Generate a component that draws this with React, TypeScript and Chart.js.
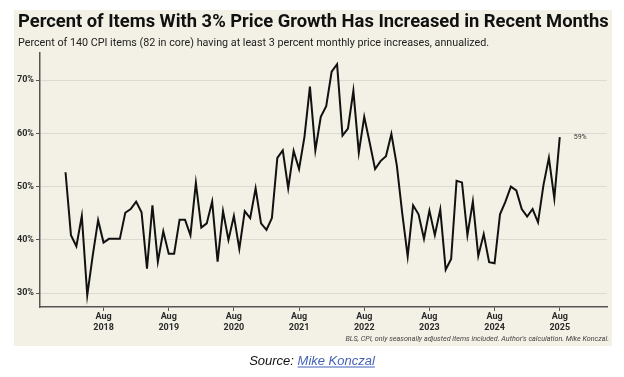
import React, { useEffect, useRef } from 'react';
import { Chart, registerables } from 'chart.js';

Chart.register(...registerables);

// Monthly share (%) of CPI items with >=3% annualized monthly price growth, Jan 2018 .. Aug 2025
const values2018 = [52.7, 40.9, 38.8, 44.5, 29.6, 37.0, 43.7, 39.5, 40.2, 40.2, 40.2, 45.1];
const values2019 = [45.8, 47.2, 45.2, 34.6, 46.5, 35.9, 41.6, 37.4, 37.4, 43.8, 43.8, 40.9];
const values2020 = [50.7, 42.3, 43.1, 47.2, 35.9, 45.4, 40.0, 44.5, 38.3, 45.4, 44.1, 49.7];
const values2021 = [43.1, 41.9, 44.1, 55.4, 56.8, 49.7, 56.7, 53.3, 59.4, 68.8, 56.8, 63.1];
const values2022 = [65.1, 71.6, 73.0, 59.6, 60.9, 68.0, 56.4, 63.1, 58.3, 53.3, 54.8, 55.7];
const values2023 = [59.9, 54.0, 45.0, 36.9, 46.5, 44.8, 40.2, 45.5, 40.9, 45.7, 34.4, 36.4];
const values2024 = [51.1, 50.8, 40.9, 47.2, 37.0, 41.1, 35.8, 35.6, 44.8, 47.2, 50.0, 49.3];
const values2025 = [45.8, 44.4, 45.8, 43.3, 50.3, 55.4, 47.8, 59.3];

const values = [
  ...values2018, ...values2019, ...values2020, ...values2021,
  ...values2022, ...values2023, ...values2024, ...values2025,
];

const tickMonth = 'Aug';
const tickYears = ['2018', '2019', '2020', '2021', '2022', '2023', '2024', '2025'];
const tickMonthIndex = 7; // August, counted from January 2018 = 0
const yTicks = [30, 40, 50, 60, 70];
const yMin = 27.4;
const yMax = 75.1;
const xMin = -4.7;
const xMax = 99.7;

const titleText = 'Percent of Items With 3% Price Growth Has Increased in Recent Months';
const subtitleText = 'Percent of 140 CPI items (82 in core) having at least 3 percent monthly price increases, annualized.';
const footnoteText = "BLS, CPI, only seasonally adjusted items included. Author's calculation. Mike Konczal.";
const sourcePrefix = 'Source: ';
const sourceLink = 'Mike Konczal';
const lastLabel = '59%';

const points = values.map((v, i) => ({ x: i, y: v }));
const tickPositions = tickYears.map((_, k) => tickMonthIndex + 12 * k);

const BEIGE = '#f3f1e5';

function fitFont(ctx: CanvasRenderingContext2D, text: string, style: string, family: string, base: number, width: number) {
  ctx.font = `${style} ${base}px ${family}`;
  const w = ctx.measureText(text).width;
  const size = base * width / w;
  return `${style} ${size.toFixed(2)}px ${family}`;
}

const decorPlugin = {
  id: 'decor',
  beforeDraw(chart: any) {
    const ctx = chart.ctx as CanvasRenderingContext2D;
    ctx.save();
    ctx.fillStyle = '#ffffff';
    ctx.fillRect(0, 0, chart.width, chart.height);
    ctx.fillStyle = BEIGE;
    ctx.fillRect(14, 10, 598, 336);

    ctx.fillStyle = '#111111';
    ctx.textBaseline = 'alphabetic';
    ctx.textAlign = 'left';
    ctx.font = fitFont(ctx, titleText, 'bold', 'Roboto', 17, 591);
    ctx.fillText(titleText, 18, 27);

    ctx.fillStyle = '#222222';
    ctx.font = fitFont(ctx, subtitleText, 'normal', 'Roboto', 10, 471);
    ctx.fillText(subtitleText, 18, 46);
    ctx.restore();
  },
  afterDraw(chart: any) {
    const ctx = chart.ctx as CanvasRenderingContext2D;
    ctx.save();
    // end label
    const meta = chart.getDatasetMeta(0);
    const last = meta.data[meta.data.length - 1];
    ctx.fillStyle = '#333333';
    ctx.font = 'normal 7px Roboto';
    ctx.textAlign = 'left';
    ctx.textBaseline = 'middle';
    ctx.fillText(lastLabel, last.x + 14, last.y);

    // footnote
    ctx.fillStyle = '#444444';
    ctx.textAlign = 'right';
    ctx.textBaseline = 'alphabetic';
    ctx.font = fitFont(ctx, footnoteText, 'italic', 'Roboto', 7, 264);
    ctx.fillText(footnoteText, 609, 341);

    // source line
    ctx.font = 'italic 13px "Liberation Sans"';
    const w1 = ctx.measureText(sourcePrefix).width;
    const w2 = ctx.measureText(sourceLink).width;
    const x0 = 312 - (w1 + w2) / 2;
    ctx.textAlign = 'left';
    ctx.fillStyle = '#111111';
    ctx.fillText(sourcePrefix, x0, 365);
    ctx.fillStyle = '#4563b5';
    ctx.fillText(sourceLink, x0 + w1, 365);
    ctx.fillRect(x0 + w1, 366.5, w2, 1);
    ctx.restore();
  },
};

export default function App() {
  const ref = useRef<HTMLCanvasElement | null>(null);

  useEffect(() => {
    document.body.style.margin = '0';
    const canvas = ref.current;
    if (!canvas) return;
    const chart = new Chart(canvas, {
      type: 'line',
      data: {
        datasets: [
          {
            data: points,
            borderColor: '#111111',
            borderWidth: 2,
            pointRadius: 0,
            tension: 0,
            fill: false,
          },
        ],
      },
      options: {
        responsive: false,
        animation: false,
        devicePixelRatio: 1,
        layout: { padding: { left: 0, right: 17, top: 53, bottom: 40 } },
        plugins: {
          legend: { display: false },
          tooltip: { enabled: false },
          title: { display: false },
        },
        scales: {
          x: {
            type: 'linear',
            min: xMin,
            max: xMax,
            afterBuildTicks: (s: any) => {
              s.ticks = tickPositions.map((v) => ({ value: v }));
            },
            afterFit: (s: any) => {
              s.height = 30;
            },
            ticks: {
              autoSkip: false,
              maxRotation: 0,
              padding: 1,
              color: '#2a2a2a',
              font: { family: 'Roboto', weight: 'bold', size: 9, lineHeight: 1.15 },
              callback: (v: any) => {
                const k = tickPositions.indexOf(Number(v));
                return k >= 0 ? [tickMonth, tickYears[k]] : '';
              },
            },
            grid: {
              drawOnChartArea: false,
              drawTicks: true,
              tickLength: 4,
              color: '#555555',
              lineWidth: 1,
            },
            border: { display: true, color: '#555555', width: 1.5 },
          },
          y: {
            type: 'linear',
            min: yMin,
            max: yMax,
            afterBuildTicks: (s: any) => {
              s.ticks = yTicks.map((v) => ({ value: v }));
            },
            afterFit: (s: any) => {
              s.width = 40;
            },
            ticks: {
              padding: 2,
              color: '#2a2a2a',
              font: { family: 'Roboto', weight: 'bold', size: 9 },
              callback: (v: any) => `${v}%`,
            },
            grid: {
              color: '#dcdad2',
              lineWidth: 1,
              tickLength: 4,
              tickColor: '#555555',
            },
            border: { display: true, color: '#555555', width: 1.5 },
          },
        },
      },
      plugins: [decorPlugin],
    } as any);
    return () => chart.destroy();
  }, []);

  return (
    <div style={{ position: 'absolute', left: 0, top: 0, width: 624, height: 377 }}>
      <canvas ref={ref} width={624} height={377} style={{ width: 624, height: 377, display: 'block' }} />
    </div>
  );
}
